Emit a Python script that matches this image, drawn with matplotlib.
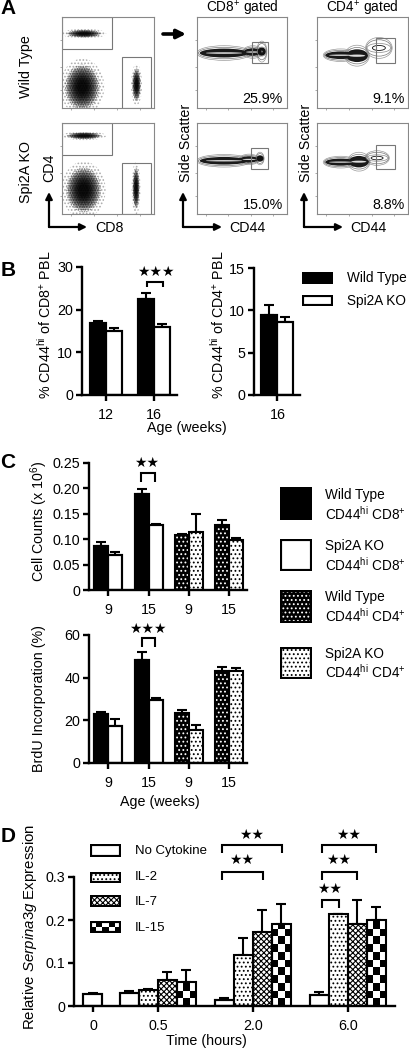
import matplotlib
matplotlib.use("Agg")
import matplotlib.pyplot as plt
from matplotlib.patches import Ellipse, Rectangle

plt.rcParams["font.family"] = ["Liberation Sans", "DejaVu Sans"]
plt.rcParams["mathtext.fontset"] = "custom"
plt.rcParams["mathtext.rm"] = "Liberation Sans"
plt.rcParams["mathtext.it"] = "Liberation Sans:italic"
plt.rcParams["mathtext.default"] = "regular"
plt.rcParams["hatch.linewidth"] = 0.8

W, H = 410, 1049
FS = 10.3
FS_LEG = 9.8

# =========================
# Data
# =========================

# panel B
b_ages = ["12", "16"]
b_wt = [16.8, 22.6]
b_wt_err = [0.5, 1.4]
b_ko = [15.0, 16.0]
b_ko_err = [0.7, 0.7]
b2_ages = ["16"]
b2_wt = [9.5]
b2_wt_err = [1.1]
b2_ko = [8.6]
b2_ko_err = [0.6]

# panel C
c_ages = ["9", "15", "9", "15"]
c_counts = [0.086, 0.069, 0.188, 0.127, 0.108, 0.114, 0.127, 0.099]
c_counts_err = [0.009, 0.005, 0.010, 0.002, 0.002, 0.035, 0.011, 0.003]
c_brdu = [23.0, 17.3, 48.5, 29.5, 23.3, 15.5, 43.0, 43.2]
c_brdu_err = [1.0, 3.2, 3.5, 1.0, 1.4, 2.5, 1.8, 1.3]
c_styles = ["black", "white", "dotblack", "dotwhite"]

# panel D
d_times = ["0", "0.5", "2.0", "6.0"]
d_none = [0.028, 0.031, 0.015, 0.026]
d_none_err = [0.003, 0.003, 0.004, 0.006]
d_il2 = [None, 0.037, 0.118, 0.214]
d_il2_err = [None, 0.002, 0.040, 0.001]
d_il7 = [None, 0.060, 0.173, 0.190]
d_il7_err = [None, 0.020, 0.050, 0.056]
d_il15 = [None, 0.056, 0.190, 0.200]
d_il15_err = [None, 0.028, 0.048, 0.030]

# panel A: populations as (centre x, centre y, radius x, radius y) in axes fractions
dots_wt = [(0.24, 0.817, 0.20, 0.045), (0.22, 0.23, 0.20, 0.26), (0.81, 0.256, 0.05, 0.19)]
dots_ko = [(0.24, 0.86, 0.20, 0.04), (0.235, 0.265, 0.20, 0.26), (0.805, 0.283, 0.04, 0.24)]
gates_wt = [(0.0, 0.648, 0.54, 0.352), (0.657, 0.0, 0.307, 0.56)]
gates_ko = [(0.0, 0.647, 0.54, 0.353), (0.65, 0.0, 0.314, 0.56)]
contour_cd8_wt = [(0.30, 0.604, 0.27, 0.035), (0.62, 0.615, 0.10, 0.03), (0.72, 0.62, 0.05, 0.05)]
contour_cd4_wt = [(0.26, 0.58, 0.17, 0.03), (0.44, 0.575, 0.12, 0.05), (0.68, 0.66, 0.13, 0.05)]
contour_cd8_ko = [(0.30, 0.585, 0.27, 0.03), (0.58, 0.60, 0.10, 0.025), (0.70, 0.61, 0.04, 0.03)]
contour_cd4_ko = [(0.26, 0.57, 0.17, 0.028), (0.46, 0.575, 0.11, 0.045), (0.66, 0.615, 0.12, 0.035)]
gate_cd8_wt = (0.607, 0.495, 0.183, 0.23)
gate_cd4_wt = (0.65, 0.495, 0.21, 0.27)
gate_cd8_ko = (0.60, 0.49, 0.19, 0.24)
gate_cd4_ko = (0.65, 0.49, 0.21, 0.27)

fig = plt.figure(figsize=(W / 100, H / 100), dpi=100)


def axes_px(x0, y0, x1, y1):
    # box given in picture pixels, y downwards
    return fig.add_axes([x0 / W, 1 - y1 / H, (x1 - x0) / W, (y1 - y0) / H])


# overlay in picture pixels for labels, arrows and brackets
ov = fig.add_axes([0, 0, 1, 1], zorder=10)
ov.set_xlim(0, W)
ov.set_ylim(H, 0)
ov.axis("off")


def txt(x, y, s, size=FS, ha="center", rot=0, **kw):
    ov.text(x, y, s, fontsize=size, ha=ha, va="center", rotation=rot, **kw)


def arrow(x0, y0, x1, y1, lw=1.6, scale=10):
    ov.annotate("", xy=(x1, y1), xytext=(x0, y0),
                arrowprops=dict(arrowstyle="-|>", color="black", lw=lw, mutation_scale=scale,
                                shrinkA=0, shrinkB=0))


def bracket(x0, x1, y, leg, stars=None, sx=None, sy=None):
    ov.plot([x0, x0, x1, x1], [y + leg, y, y, y + leg], color="black", lw=1.5,
            solid_joinstyle="miter", solid_capstyle="butt")
    if stars:
        ov.text(sx, sy, "\u2605" * stars, fontsize=10, ha="center", va="center",
                family="DejaVu Sans")


# =========================
# Panel A
# =========================


def flow_axes(x0, y0, x1, y1):
    ax = axes_px(x0, y0, x1, y1)
    ax.set_xlim(0, 1)
    ax.set_ylim(0, 1)
    for s in ax.spines.values():
        s.set_color("#888888")
        s.set_linewidth(0.8)
    ax.set_xticks([0.1, 0.35, 0.6, 0.85])
    ax.set_yticks([0.2, 0.45, 0.75])
    ax.tick_params(length=1.5, width=0.5, color="#888888", labelbottom=False, labelleft=False)
    return ax


def dots(ax, blobs, gates):
    for cx, cy, rx, ry in blobs:
        ax.add_patch(Ellipse((cx, cy), 2.4 * rx, 2.4 * ry, fill=False, lw=0, hatch=".....", edgecolor="#aaaaaa"))
        ax.add_patch(Ellipse((cx, cy), 1.9 * rx, 1.9 * ry, fill=False, lw=0, hatch=".......", edgecolor="#666666"))
        for scale in [1.7, 1.5, 1.3, 1.1, 0.95, 0.8, 0.65, 0.5]:
            ax.add_patch(Ellipse((cx, cy), scale * rx, scale * ry, color="black", alpha=0.3, lw=0))
    for x, y, w, h in gates:
        ax.add_patch(Rectangle((x, y), w, h, fill=False, edgecolor="#777777", lw=0.8))


def contours(ax, blobs, gate, ring_lw):
    for cx, cy, rx, ry in blobs:
        ax.add_patch(Ellipse((cx, cy), 2.25 * rx, 4.6 * ry, fill=False, edgecolor="#999999", lw=0.5))
        ax.add_patch(Ellipse((cx, cy), 2.12 * rx, 3.6 * ry, fill=False, edgecolor="#777777", lw=0.5))
    for cx, cy, rx, ry in blobs[:2]:
        ax.add_patch(Ellipse((cx, cy), 2.0 * rx, 2.8 * ry, color="#1a1a1a", lw=0))
    for cx, cy, rx, ry in blobs[:2]:
        ax.add_patch(Ellipse((cx, cy), 1.5 * rx, 0.5 * ry, color="#dddddd", lw=0))
    cx, cy, rx, ry = blobs[2]
    ax.add_patch(Ellipse((cx, cy), 2.0 * rx, 2.0 * ry, fill=False, edgecolor="#888888", lw=0.5))
    ax.add_patch(Ellipse((cx, cy), 1.1 * rx, 1.1 * ry, fill=False, edgecolor="#111111", lw=ring_lw))
    ax.add_patch(Rectangle(gate[:2], gate[2], gate[3], fill=False, edgecolor="#777777", lw=0.8))


dots(flow_axes(62, 17, 154, 108), dots_wt, gates_wt)
dots(flow_axes(62, 123, 154, 214), dots_ko, gates_ko)
contours(flow_axes(197, 17, 287, 108), contour_cd8_wt, gate_cd8_wt, 2.2)
contours(flow_axes(317, 17, 408, 108), contour_cd4_wt, gate_cd4_wt, 0.6)
contours(flow_axes(197, 123, 287, 214), contour_cd8_ko, gate_cd8_ko, 2.2)
contours(flow_axes(317, 123, 408, 214), contour_cd4_ko, gate_cd4_ko, 0.6)

txt(242, 9, "CD8$^{+}$ gated", size=FS_LEG)
txt(362, 9, "CD4$^{+}$ gated", size=FS_LEG)
txt(283, 99, "25.9%", ha="right")
txt(405, 99, "9.1%", ha="right")
txt(283, 205, "15.0%", ha="right")
txt(405, 205, "8.8%", ha="right")
txt(26, 67, "Wild Type", rot=90)
txt(26, 172, "Spi2A KO", rot=90)
txt(49, 168, "CD4", rot=90)
txt(109, 228, "CD8")
txt(186, 143, "Side Scatter", rot=90)
txt(306, 143, "Side Scatter", rot=90)
txt(247, 228, "CD44")
txt(368, 228, "CD44")

arrow(163, 34, 186, 34, lw=2.6, scale=13)
for x0, x1 in [(49, 87), (183, 222), (304, 343)]:
    arrow(x0, 227, x1, 227)
    arrow(x0, 227, x0, 192)

for x, y, s in [(8, 9, "A"), (8, 271, "B"), (8, 463, "C"), (8, 837, "D")]:
    txt(x, y, s, size=15, fontweight="bold")

# =========================
# Bars
# =========================


def style_axes(ax, yticks, ylabels, xticks, xlabels, lw=1.7):
    ax.spines["top"].set_visible(False)
    ax.spines["right"].set_visible(False)
    ax.spines["left"].set_linewidth(lw)
    ax.spines["bottom"].set_linewidth(lw)
    ax.set_yticks(yticks)
    ax.set_yticklabels(ylabels)
    ax.set_xticks(xticks)
    ax.set_xticklabels(xlabels)
    ax.tick_params(length=4.5, width=lw, labelsize=FS, pad=2)
    ax.tick_params(axis="x", pad=5)


def checker(ax, patch, x, w, h, cell_x, cell_y):
    # white squares on a black bar
    row = 0
    y = 0
    while y < h:
        col = row % 2
        xx = x + col * cell_x
        while xx < x + w:
            r = Rectangle((xx, y), cell_x, cell_y, color="white", lw=0, zorder=2.5)
            ax.add_patch(r)
            r.set_clip_path(patch)
            xx += 2 * cell_x
        row += 1
        y += cell_y


def bar(ax, x, w, h, err, style, cell=None):
    if style == "black":
        p = ax.bar(x, h, w, color="black", edgecolor="black", lw=1.5, zorder=2)[0]
    elif style == "white":
        p = ax.bar(x, h, w, color="white", edgecolor="black", lw=1.5, zorder=2)[0]
    elif style == "dotblack":
        p = ax.bar(x, h, w, color="black", edgecolor="white", lw=0, hatch="....", zorder=2)[0]
    elif style == "dotwhite":
        p = ax.bar(x, h, w, color="white", edgecolor="black", lw=0, hatch="....", zorder=2)[0]
    elif style == "fine":
        p = ax.bar(x, h, w, color="white", edgecolor="black", lw=0, hatch="xxxxxx", zorder=2)[0]
    elif style == "check":
        p = ax.bar(x, h, w, color="black", lw=0, zorder=2)[0]
        checker(ax, p, x - w / 2, w, h, cell[0], cell[1])
    ax.bar(x, h, w, fill=False, edgecolor="black", lw=1.5, zorder=3)
    ax.errorbar(x, h, yerr=[[0], [err]], color="black", lw=1.5, capsize=3.5, capthick=1.5, zorder=1)


def legend_patch(x0, y0, x1, y1, style):
    ax = axes_px(x0, y0, x1, y1)
    ax.set_xlim(0, 1)
    ax.set_ylim(0, 1)
    ax.axis("off")
    kw = {"black": dict(color="black"), "white": dict(color="white"),
          "dotblack": dict(facecolor="black", edgecolor="white", hatch="....", lw=0),
          "dotwhite": dict(facecolor="white", edgecolor="black", hatch="....", lw=0),
          "fine": dict(facecolor="white", edgecolor="black", hatch="xxxxxx", lw=0)}
    if style == "check":
        ax.add_patch(Rectangle((0, 0), 1, 1, color="black", lw=0))
        for i in range(5):
            for j in range(2):
                if (i + j) % 2:
                    ax.add_patch(Rectangle((i / 5, j / 2), 0.2, 0.5, color="white", lw=0))
    else:
        ax.add_patch(Rectangle((0, 0), 1, 1, **kw[style]))
    ax.add_patch(Rectangle((0, 0), 1, 1, fill=False, edgecolor="black", lw=3.0, clip_on=True))


# Panel B
ax = axes_px(82, 267, 177, 395)
ax.set_xlim(0.5, 0.5 + 95 / 48)
ax.set_ylim(0, 30)
bw = 16 / 48
for i in range(len(b_ages)):
    bar(ax, i + 1 - bw / 2, bw, b_wt[i], b_wt_err[i], "black")
    bar(ax, i + 1 + bw / 2, bw, b_ko[i], b_ko_err[i], "white")
style_axes(ax, [0, 10, 20, 30], ["0", "10", "20", "30"], [1, 2], b_ages)

ax = axes_px(254, 268, 300, 395)
ax.set_xlim(0, 46)
ax.set_ylim(0, 15)
bar(ax, 15.5, 16, b2_wt[0], b2_wt_err[0], "black")
bar(ax, 31.5, 16, b2_ko[0], b2_ko_err[0], "white")
style_axes(ax, [0, 5, 10, 15], ["0", "5", "10", "15"], [23.5], b2_ages)

txt(45, 325, "% CD44$^{hi}$ of CD8$^{+}$ PBL", rot=90)
txt(218, 325, "% CD44$^{hi}$ of CD4$^{+}$ PBL", rot=90)
txt(187, 428, "Age (weeks)")
legend_patch(302, 272, 333, 284, "black")
legend_patch(302, 295, 333, 306, "white")
txt(347, 278, "Wild Type", size=FS_LEG, ha="left")
txt(347, 301, "Spi2A KO", size=FS_LEG, ha="left")
bracket(147, 163, 282, 5, 3, 156, 272)

# Panel C


def panel_c(y0, y1, ymax, vals, errs, yticks, ylabels):
    ax = axes_px(89, y0, 247, y1)
    ax.set_xlim(0, 158)
    ax.set_ylim(0, ymax)
    for g in range(4):
        cx = 19.5 + 40 * g
        wt_style = "black" if g < 2 else "dotblack"
        ko_style = "white" if g < 2 else "dotwhite"
        bar(ax, cx - 7, 14, vals[2 * g], errs[2 * g], wt_style)
        bar(ax, cx + 7, 14, vals[2 * g + 1], errs[2 * g + 1], ko_style)
    style_axes(ax, yticks, ylabels, [19.5 + 40 * g for g in range(4)], c_ages)


panel_c(463, 590, 0.25, c_counts, c_counts_err,
        [0, 0.05, 0.10, 0.15, 0.20, 0.25], ["0", "0.05", "0.10", "0.15", "0.20", "0.25"])
panel_c(635, 763, 60, c_brdu, c_brdu_err, [0, 20, 40, 60], ["0", "20", "40", "60"])
txt(39, 521, "Cell Counts (x 10$^{6}$)", rot=90)
txt(39, 698, "BrdU Incorporation (%)", rot=90)
txt(160, 802, "Age (weeks)")
bracket(141, 155, 473, 9, 2, 147, 463)
bracket(142, 155, 638, 9, 3, 148, 629)

c_legend_y = [(487, 520), (539, 571), (590, 623), (647, 679)]
c_legend_txt = [("Wild Type", "CD44$^{hi}$ CD8$^{+}$", 495, 514), ("Spi2A KO", "CD44$^{hi}$ CD8$^{+}$", 546, 565),
                ("Wild Type", "CD44$^{hi}$ CD4$^{+}$", 597, 616), ("Spi2A KO", "CD44$^{hi}$ CD4$^{+}$", 654, 672)]
for (y0, y1), st in zip(c_legend_y, c_styles):
    legend_patch(280, y0, 312, y1, st)
for a, b, ya, yb in c_legend_txt:
    txt(325, ya, a, size=FS_LEG, ha="left")
    txt(325, yb, b, size=FS_LEG, ha="left")

# Panel D
ax = axes_px(74, 877, 395, 1006)
ax.set_xlim(74, 395)
ax.set_ylim(0, 0.3)
d_centres = [93, 158, 253, 348]
d_series = [(d_none, d_none_err, "white"), (d_il2, d_il2_err, "dotwhite"),
            (d_il7, d_il7_err, "fine"), (d_il15, d_il15_err, "check")]
dw = 19
for g, cx in enumerate(d_centres):
    for k, (vals, errs, st) in enumerate(d_series):
        if vals[g] is None:
            continue
        x = cx if g == 0 else cx + (k - 1.5) * dw
        bar(ax, x, dw, vals[g], errs[g], st, cell=(dw / 3, 0.018))
style_axes(ax, [0, 0.1, 0.2, 0.3], ["0", "0.1", "0.2", "0.3"], d_centres, d_times)

txt(30, 927, "Relative $\\it{Serpina3g}$ Expression", size=10.8, rot=90)
txt(206, 1041, "Time (hours)")

for (y0, y1), st in zip([(844, 857), (872, 883), (895, 907), (921, 933)], ["white", "dotwhite", "fine", "check"]):
    legend_patch(90, y0, 121, y1, st)
for y, s in zip([851, 877, 902, 928], ["No Cytokine", "IL-2", "IL-7", "IL-15"]):
    txt(135, y, s, size=9.5, ha="left")

bracket(222, 282, 845, 8, 2, 252, 835)
bracket(222, 263, 872, 8, 2, 242, 860)
bracket(322, 376, 845, 8, 2, 349, 835)
bracket(322, 357, 872, 8, 2, 339, 860)
bracket(322, 339, 900, 8, 2, 330, 889)

plt.savefig("out.png", dpi=100)
plt.close()
